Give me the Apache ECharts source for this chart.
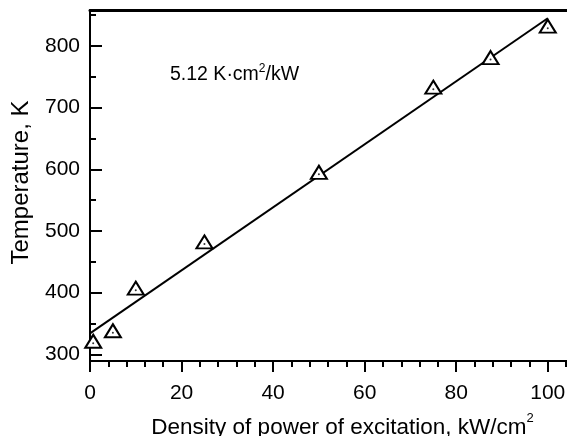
<!DOCTYPE html>
<html>
<head>
<meta charset="utf-8">
<script src="https://cdn.jsdelivr.net/npm/echarts@6/dist/echarts.min.js"></script>
<style>html,body{margin:0;padding:0;background:#fff}#c{width:567px;height:436px}</style>
</head>
<body>
<div id="c"></div>
<script>
// Data
var densityValues = [0.7, 5, 10, 25, 50, 75, 87.5, 100];
var temperatureValues = [318, 335, 404, 479, 592, 730, 778, 829];
var fitX = [0, 100];
var fitY = [334, 845];
var xMajorTicks = [0, 20, 40, 60, 80, 100];
var xMinorTicks = [4, 8, 12, 16, 24, 28, 32, 36, 44, 48, 52, 56, 64, 68, 72, 76, 84, 88, 92, 96, 104];
var yMajorTicks = [300, 400, 500, 600, 700, 800];
var yMinorTicks = [350, 450, 550, 650, 750, 850];
var slopeText = '5.12 K\u00B7cm{sup|2}/kW';

var FONT = 'Liberation Sans, Arial, sans-serif';
var XMIN = 0, XMAX = 104.2, YMIN = 289.2, YMAX = 858.4;

var chart = echarts.init(document.getElementById('c'));
function pairs(xs, ys) { return xs.map(function (x, i) { return [x, ys[i]]; }); }

var option = {
  animation: false,
  backgroundColor: '#fff',
  grid: { left: 90, top: 10, width: 477, height: 351, containLabel: false, outerBoundsMode: 'none' },
  xAxis: [
    {
      type: 'value', position: 'bottom', min: XMIN, max: XMAX,
      name: 'Density of power of excitation, kW/cm{sup|2}',
      nameLocation: 'middle', nameGap: 51,
      nameTextStyle: { fontFamily: FONT, fontSize: 22.5, color: '#000', padding: [0, 0, 0, 28],
        rich: { sup: { fontFamily: FONT, fontSize: 13, color: '#000', padding: [0, 0, 19, 0] } } },
      axisLine: { show: true, lineStyle: { color: '#000', width: 2 } },
      axisTick: { show: true, inside: false, length: 11, customValues: xMajorTicks, lineStyle: { color: '#000', width: 2 } },
      axisLabel: { show: true, customValues: xMajorTicks, margin: 22, fontFamily: FONT, fontSize: 21, color: '#000' },
      splitLine: { show: false }
    },
    {
      type: 'value', position: 'bottom', min: XMIN, max: XMAX,
      axisLine: { show: false },
      axisTick: { show: true, inside: false, length: 6, customValues: xMinorTicks, lineStyle: { color: '#000', width: 2 } },
      axisLabel: { show: false },
      splitLine: { show: false }
    },
    {
      type: 'value', position: 'top', min: XMIN, max: XMAX,
      axisLine: { show: true, lineStyle: { color: '#000', width: 3 } },
      axisTick: { show: false }, axisLabel: { show: false }, splitLine: { show: false }
    }
  ],
  yAxis: [
    {
      type: 'value', position: 'left', min: YMIN, max: YMAX,
      name: 'Temperature, K', nameLocation: 'middle', nameGap: 57, nameRotate: 90,
      nameTextStyle: { fontFamily: FONT, fontSize: 24, color: '#000', padding: [0, 0, 0, 6] },
      axisLine: { show: true, lineStyle: { color: '#000', width: 2 } },
      axisTick: { show: true, inside: true, length: 12, customValues: yMajorTicks, lineStyle: { color: '#000', width: 2 } },
      axisLabel: { show: true, customValues: yMajorTicks, margin: 10, fontFamily: FONT, fontSize: 21, color: '#000' },
      splitLine: { show: false }
    },
    {
      type: 'value', position: 'left', min: YMIN, max: YMAX,
      axisLine: { show: false },
      axisTick: { show: true, inside: true, length: 6, customValues: yMinorTicks, lineStyle: { color: '#000', width: 2 } },
      axisLabel: { show: false },
      splitLine: { show: false }
    }
  ],
  graphic: [
    {
      type: 'text', left: 170, top: 63,
      style: {
        text: slopeText, fontFamily: FONT, fontSize: 19.5, fill: '#000',
        rich: { sup: { fontFamily: FONT, fontSize: 12, fill: '#000', padding: [0, 0, 12, 0] } }
      }
    }
  ],
  series: [
    {
      type: 'line', xAxisIndex: 0, yAxisIndex: 0, data: pairs(fitX, fitY),
      showSymbol: false, symbol: 'none', lineStyle: { color: '#000', width: 2 }, z: 2
    },
    {
      type: 'scatter', xAxisIndex: 0, yAxisIndex: 0, data: pairs(densityValues, temperatureValues),
      symbol: 'triangle', symbolSize: [16, 13], symbolOffset: [0, -2],
      itemStyle: { color: '#fff', borderColor: '#000', borderWidth: 2, opacity: 1 }, z: 3
    },
    {
      type: 'scatter', xAxisIndex: 0, yAxisIndex: 0, data: pairs(densityValues, temperatureValues),
      symbol: 'circle', symbolSize: 2,
      itemStyle: { color: '#000' }, z: 4, silent: true
    }
  ]
};
chart.setOption(option);
</script>
</body>
</html>
